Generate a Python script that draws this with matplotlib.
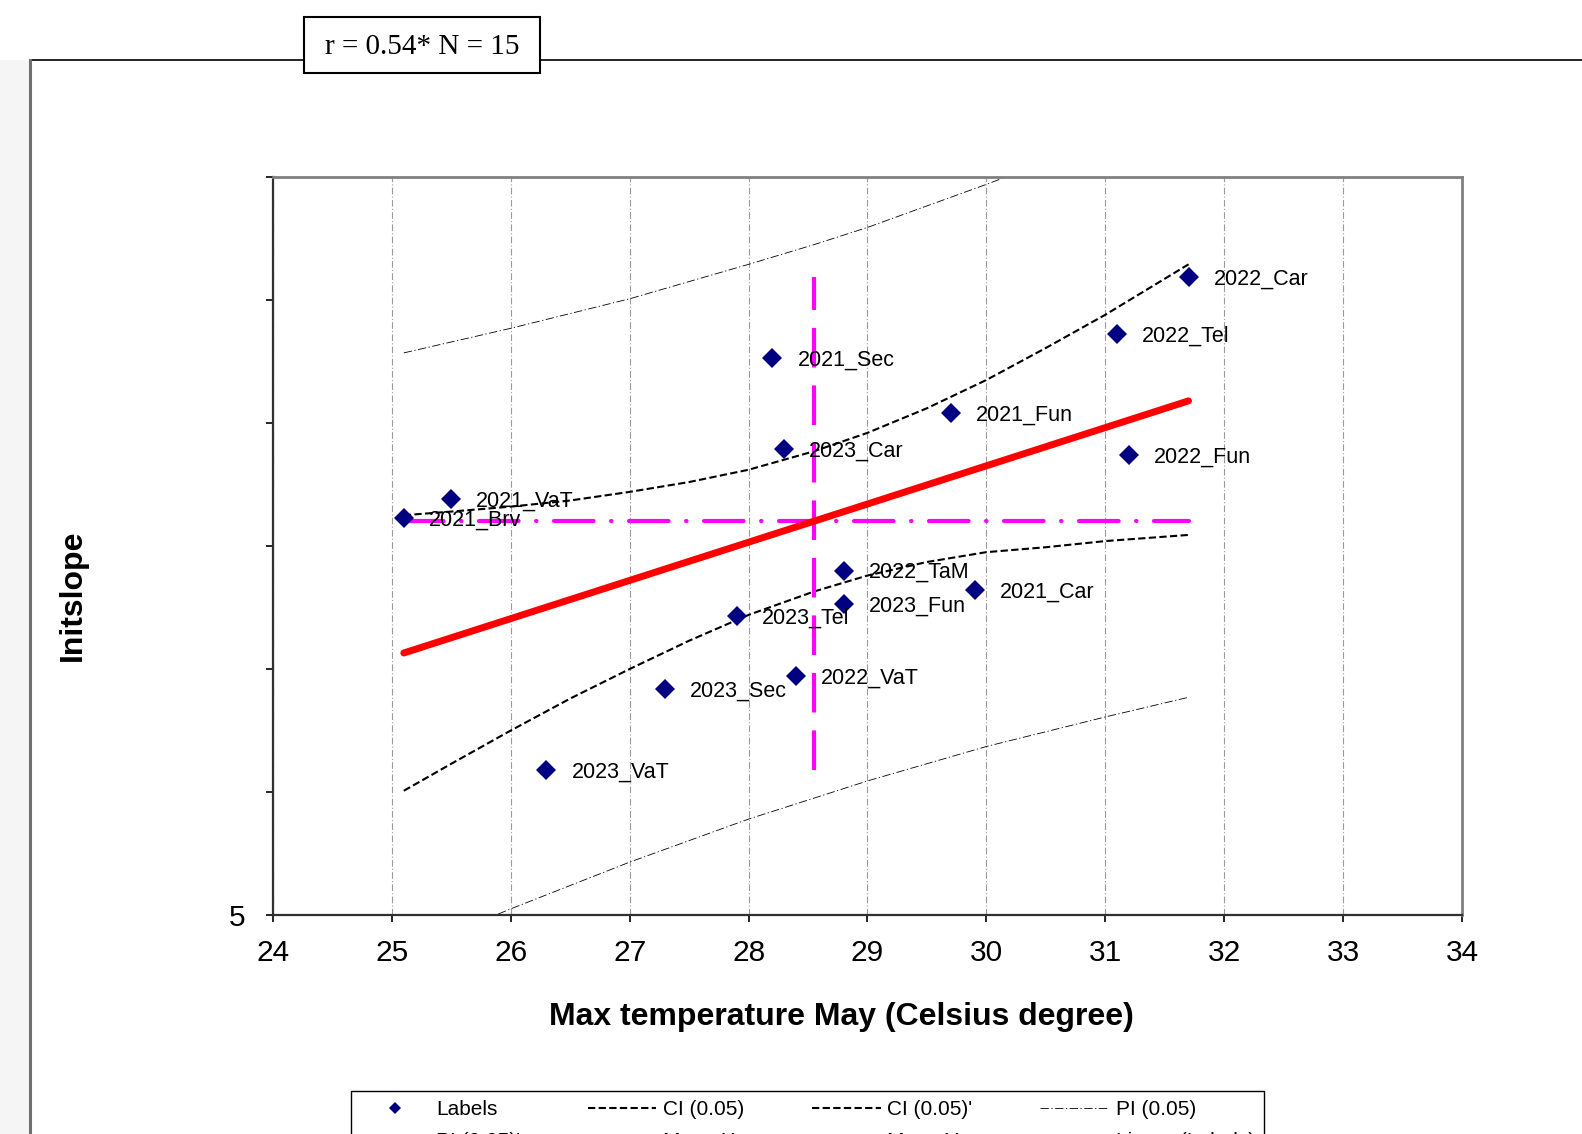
import matplotlib
matplotlib.use('Agg')
import matplotlib.pyplot as plt
from matplotlib.patches import Rectangle
from matplotlib.lines import Line2D
import numpy as np

plt.rcParams['font.family'] = ['Liberation Sans', 'DejaVu Sans']

#%% data
labels = ['2022_Car', '2022_Tel', '2021_Sec', '2021_Fun', '2023_Car', '2022_Fun',
          '2021_VaT', '2021_Brv', '2022_TaM', '2021_Car', '2023_Fun', '2023_Tel',
          '2022_VaT', '2023_Sec', '2023_VaT']
max_temp = [31.7, 31.1, 28.2, 29.7, 28.3, 31.2, 25.5, 25.1, 28.8, 29.9, 28.8, 27.9,
            28.4, 27.3, 26.3]
initslope = [10.19, 9.72, 9.53, 9.08, 8.79, 8.74, 8.38, 8.23, 7.80, 7.64, 7.53, 7.43,
             6.94, 6.84, 6.18]

# fitted line ends
fit_x = [25.1, 31.7]
fit_y = [7.13, 9.18]

# confidence band (0.05)
ci_x = [25.1, 25.5, 26, 26.5, 27, 27.5, 28, 28.55, 29, 29.5, 30, 30.5, 31, 31.7]
ci_hi = [8.25, 8.28, 8.32, 8.37, 8.44, 8.52, 8.62, 8.77, 8.92, 9.12, 9.35, 9.61, 9.88, 10.29]
ci_lo = [6.01, 6.23, 6.50, 6.76, 7.00, 7.23, 7.44, 7.63, 7.76, 7.87, 7.95, 7.99, 8.04, 8.09]

# prediction band (0.05)
pi_x = [25.1, 26, 27, 28, 28.55, 29, 30, 31, 31.7]
pi_hi = [9.57, 9.77, 10.01, 10.29, 10.45, 10.59, 10.94, 11.31, 11.59]
pi_lo = [4.69, 5.05, 5.43, 5.78, 5.95, 6.09, 6.37, 6.61, 6.77]

W, H = 1582, 1134
fig = plt.figure(figsize=(W / 100, H / 100), dpi=100)

# grey strip on the far left + outer frame
fig.patches.append(Rectangle((0, 0), 29 / W, 1 - 60 / H, transform=fig.transFigure,
                             facecolor='#f5f5f5', edgecolor='none', zorder=0))
fig.add_artist(Line2D([30 / W, 1], [1 - 60 / H, 1 - 60 / H], transform=fig.transFigure,
                      color='black', lw=1.2, zorder=1))
fig.add_artist(Line2D([30 / W, 30 / W], [0, 1 - 60 / H], transform=fig.transFigure,
                      color='#707070', lw=2.2, zorder=1))

# r / N box
fig.patches.append(Rectangle((304 / W, 1 - 73 / H), 236 / W, 56 / H, transform=fig.transFigure,
                             facecolor='white', edgecolor='black', lw=1.5, zorder=2))
fig.text(422 / W, 1 - 47 / H, 'r = 0.54* N = 15', ha='center', va='center',
         family=['Liberation Serif', 'DejaVu Serif'], fontsize=21, zorder=3)

ax = fig.add_axes([273 / W, 1 - 915 / H, (1462 - 273) / W, (915 - 177) / H])

ax.plot(pi_x, pi_hi, color='black', lw=0.6, linestyle=(0, (10, 3, 1.5, 3)), label='PI (0.05)')
ax.plot(pi_x, pi_lo, color='black', lw=0.6, linestyle=(0, (10, 3, 1.5, 3)), label="PI (0.05)'")
ax.plot(ci_x, ci_hi, color='black', lw=1.5, linestyle=(0, (3.5, 1.6)), label='CI (0.05)')
ax.plot(ci_x, ci_lo, color='black', lw=1.5, linestyle=(0, (3.5, 1.6)), label="CI (0.05)'")

mx = np.mean(max_temp)
my = np.mean(initslope)
ax.plot([mx, mx], [min(initslope), max(initslope)], color='#ff00ff', lw=3,
        linestyle=(0, (9.5, 4.3)), label='Mean X')
ax.plot([min(max_temp), max(max_temp)], [my, my], color='#ff00ff', lw=3,
        linestyle=(0, (9.5, 4.2, 0.1, 4.2)), dash_capstyle='round', label='Mean Y')
ax.plot(fit_x, fit_y, color='#ff0000', lw=5, solid_capstyle='round', label='Linear (Labels)')

ax.plot(max_temp, initslope, 'D', color='#000080', markersize=10, markeredgewidth=0,
        linestyle='none', label='Labels', zorder=5)
for x, y, s in zip(max_temp, initslope, labels):
    ax.annotate(s, (x, y), xytext=(18, -1.5), textcoords='offset points',
                ha='left', va='center', fontsize=15.5, zorder=6)

ax.set_xlim(24, 34)
ax.set_ylim(5, 11)
ax.set_xticks(range(24, 35))
ax.set_yticks(range(5, 12))
ax.set_yticklabels(['5', '', '', '', '', '', ''])
ax.tick_params(axis='x', direction='out', length=5, width=1.2, labelsize=21.5, pad=12)
ax.tick_params(axis='y', direction='out', length=5, width=1.2, labelsize=21.5, pad=15)
ax.xaxis.grid(True, color='#9a9a9a', lw=0.8, linestyle=(0, (6, 2, 1, 2)))
for side in ['top', 'right']:
    ax.spines[side].set_color('#808080')
    ax.spines[side].set_linewidth(2)
for side in ['left', 'bottom']:
    ax.spines[side].set_color('#303030')
    ax.spines[side].set_linewidth(1.6)

fig.text(841 / W, 1 - 1017 / H, 'Max temperature May (Celsius degree)', ha='center', va='center',
         fontsize=23, fontweight='bold')
fig.text(73 / W, 1 - 595 / H, 'Initslope', ha='center', va='center', rotation=90,
         fontsize=23, fontweight='bold')

# legend: column-major order so that rows read as in the original
h, l = ax.get_legend_handles_labels()
lookup = dict(zip(l, h))
order = ['Labels', "PI (0.05)'", 'CI (0.05)', 'Mean X', "CI (0.05)'", 'Mean Y',
         'PI (0.05)', 'Linear (Labels)']
leg = fig.legend([lookup[k] for k in order], order, ncol=4, loc='upper left',
                 bbox_to_anchor=(351 / W, 1 - 1091 / H), borderaxespad=0,
                 fontsize=15, handlelength=3.3, handletextpad=0.32, columnspacing=3.25,
                 fancybox=False, edgecolor='black', framealpha=1, markerscale=0.6,
                 borderpad=0.45, labelspacing=0.6)
leg.get_frame().set_linewidth(1.0)

fig.savefig('out.png', dpi=100)
